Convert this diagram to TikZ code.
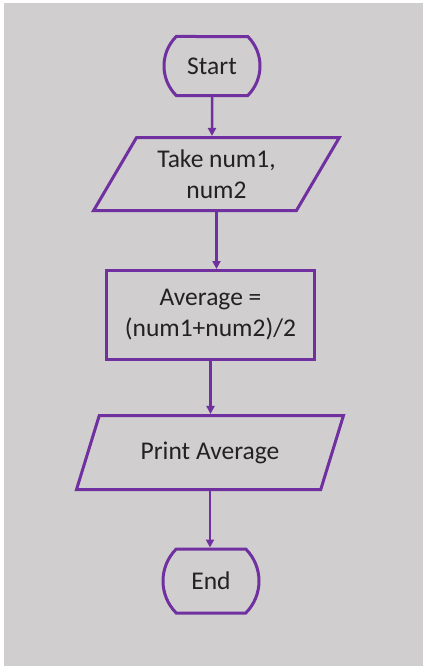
\documentclass[tikz,border=0pt]{standalone}
\usepackage{fontspec}
\setmainfont{Carlito}
\usepackage{tikz}
\usetikzlibrary{arrows.meta,positioning,shapes.geometric,shapes.misc}
\definecolor{flowpurple}{RGB}{112,48,160}
\definecolor{flowgray}{RGB}{208,206,207}
\definecolor{flowtext}{RGB}{34,34,34}

\begin{document}
\begin{tikzpicture}[x=1pt, y=-1pt,
  termbox/.style={draw=flowpurple, line width=3pt, rounded rectangle, rounded rectangle arc length=90, inner sep=0pt},
  iobox/.style={draw=flowpurple, line width=3pt, trapezium, trapezium left angle=57, trapezium right angle=123, trapezium stretches=true, inner sep=0pt, align=center},
  procbox/.style={draw=flowpurple, line width=3pt, rectangle, inner sep=0pt, align=center},
  flow/.style={-{Triangle[length=8pt, width=8pt]}, draw=flowpurple, line width=2.5pt},
  lab/.style={font=\fontsize{25.5}{31}\selectfont, text=flowtext}
]

% ---------- Page and grey panel ----------
\useasboundingbox (0,0) rectangle (427,672);
\fill[flowgray] (4,3) rectangle (423,666);

% ---------- Flow chart steps ----------
\node[termbox, lab, minimum width=96pt, minimum height=59pt] (start) at (212,66) {Start};
\node[iobox, lab, minimum width=246pt, minimum height=73pt] (input) at (216.5,174) {Take num1,\\num2};
\node[procbox, lab, minimum width=208pt, minimum height=89pt] (avg) at (210.5,315) {Average =\\(num1+num2)/2};
\node[iobox, lab, minimum width=267pt, minimum height=74pt] (output) at (210,452.5) {Print Average};
\node[termbox, lab, minimum width=96pt, minimum height=64pt] (stop) at (211,581) {End};

% ---------- Connectors ----------
\draw[flow] (start) -- (start |- input.north);
\draw[flow] (input) -- (input |- avg.north);
\draw[flow] (avg) -- (avg |- output.north);
\draw[flow] (output) -- (output |- stop.north);

\end{tikzpicture}
\end{document}
